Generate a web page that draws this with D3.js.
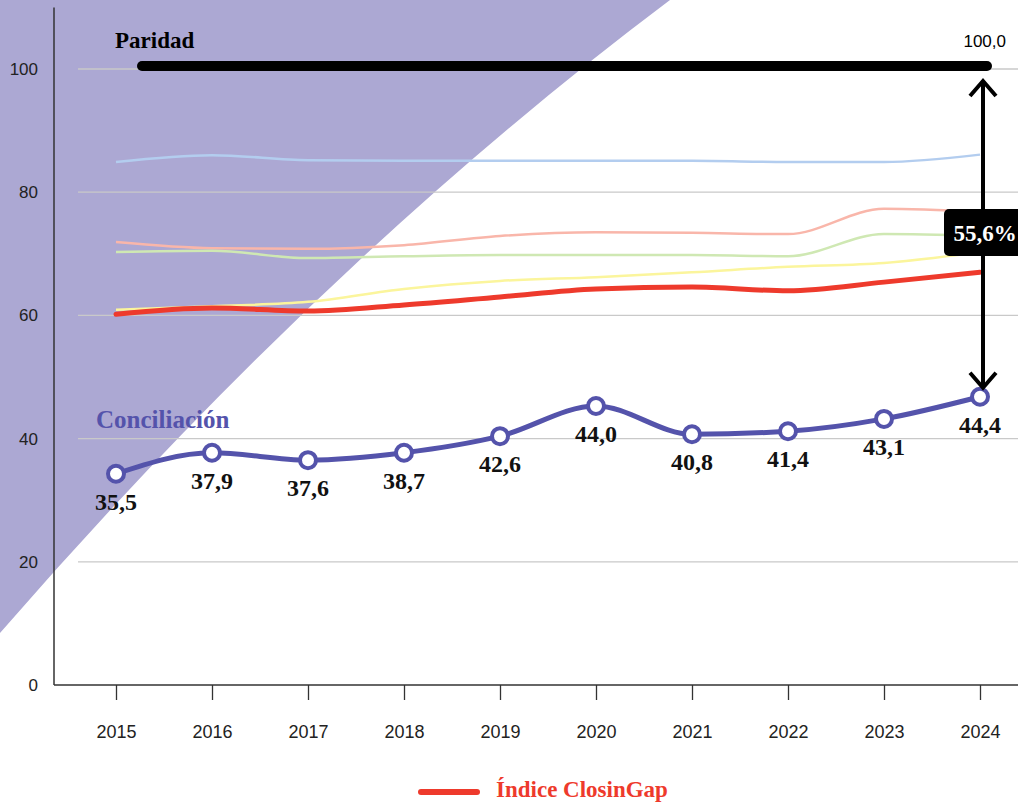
<!DOCTYPE html>
<html>
<head>
<meta charset="utf-8">
<script src="https://cdn.jsdelivr.net/npm/d3@7"></script>
<style>
  body { margin: 0; background: #fff; }
  svg { display: block; }
  .serif { font-family: "Liberation Serif", "DejaVu Serif", serif; font-weight: bold; }
  .sans { font-family: "Liberation Sans", Arial, sans-serif; }
</style>
</head>
<body>
<svg id="chart" width="1018" height="803"></svg>
<script>
// data
const years = [2015, 2016, 2017, 2018, 2019, 2020, 2021, 2022, 2023, 2024];
const conciliacion = [34.3, 37.7, 36.5, 37.7, 40.4, 45.3, 40.7, 41.2, 43.2, 46.8];
const conciliacionLabels = ["35,5", "37,9", "37,6", "38,7", "42,6", "44,0", "40,8", "41,4", "43,1", "44,4"];
const closingap = [60.2, 61.2, 60.7, 61.7, 63.0, 64.3, 64.6, 64.0, 65.4, 67.0];
// other pillars, drawn faint
const blueSerie = [84.9, 86.0, 85.2, 85.1, 85.1, 85.1, 85.1, 84.9, 84.9, 86.1];
const salmonSerie = [71.9, 70.9, 70.8, 71.4, 72.9, 73.5, 73.4, 73.2, 77.3, 76.8];
const greenSerie = [70.3, 70.5, 69.3, 69.6, 69.8, 69.8, 69.8, 69.6, 73.2, 72.9];
const yellowSerie = [60.9, 61.5, 62.2, 64.3, 65.6, 66.2, 67.0, 67.9, 68.5, 70.3];
const yTicks = [0, 20, 40, 60, 80, 100];
const paridad = 100;
const brecha = "55,6%";

const svg = d3.select("#chart");
const width = 1018, height = 803;

const x = d3.scaleLinear().domain([2015, 2024]).range([116, 980]);
const y = d3.scaleLinear().domain([0, 100]).range([685, 69]);

// purple background shape top left
const bg = d3.path();
bg.moveTo(0, 0);
bg.lineTo(670, 0);
bg.quadraticCurveTo(325, 259, 0, 633);
bg.closePath();
svg.append("path").attr("d", bg.toString()).attr("fill", "#aca8d3");

// gridlines
svg.append("g")
  .selectAll("line")
  .data(yTicks.filter(d => d > 0))
  .enter()
  .append("line")
  .attr("x1", 78)
  .attr("x2", width)
  .attr("y1", d => y(d))
  .attr("y2", d => y(d))
  .attr("stroke", "#c9c9c9")
  .attr("stroke-width", 1.3);

// y axis
const yAxis = svg.append("g")
  .attr("transform", "translate(54,0)")
  .call(d3.axisLeft(y).tickValues(yTicks).tickSize(0).tickPadding(16));
yAxis.select(".domain").remove();
yAxis.selectAll("text").attr("class", "sans").attr("font-size", 17).attr("fill", "#222");
svg.append("line")
  .attr("x1", 54).attr("x2", 54)
  .attr("y1", y(0)).attr("y2", y(110))
  .attr("stroke", "#333").attr("stroke-width", 1.5);

// x axis
const xAxis = svg.append("g")
  .attr("transform", `translate(0,${y(0)})`)
  .call(d3.axisBottom(x).tickValues(years).tickFormat(d3.format("d")).tickSize(15).tickPadding(25));
xAxis.select(".domain").remove();
xAxis.selectAll("line").attr("stroke", "#333").attr("stroke-width", 1.3);
xAxis.selectAll("text").attr("class", "sans").attr("font-size", 18).attr("fill", "#222");
svg.append("line")
  .attr("x1", 54).attr("x2", width)
  .attr("y1", y(0)).attr("y2", y(0))
  .attr("stroke", "#333").attr("stroke-width", 1.5);

const line = d3.line()
  .x((d, i) => x(years[i]))
  .y(d => y(d))
  .curve(d3.curveMonotoneX);

// faint lines
const faint = [
  { values: blueSerie, color: "#b3cdef" },
  { values: salmonSerie, color: "#f9b6aa" },
  { values: greenSerie, color: "#cfe8b3" },
  { values: yellowSerie, color: "#fbf59c" }
];
faint.forEach(s => {
  svg.append("path")
    .attr("d", line(s.values))
    .attr("fill", "none")
    .attr("stroke", s.color)
    .attr("stroke-width", 2.5);
});

// ClosinGap index
svg.append("path")
  .attr("d", line(closingap))
  .attr("fill", "none")
  .attr("stroke", "#ee3a2c")
  .attr("stroke-width", 5)
  .attr("stroke-linecap", "round");

// paridad line
svg.append("line")
  .attr("x1", 142).attr("x2", 987)
  .attr("y1", y(paridad) - 3).attr("y2", y(paridad) - 3)
  .attr("stroke", "#000").attr("stroke-width", 10)
  .attr("stroke-linecap", "round");
svg.append("text").attr("class", "serif")
  .attr("x", 115).attr("y", 48)
  .attr("font-size", 23)
  .text("Paridad");
svg.append("text").attr("class", "sans")
  .attr("x", 1006).attr("y", 47)
  .attr("text-anchor", "end")
  .attr("font-size", 17)
  .text("100,0");

// conciliacion line
svg.append("path")
  .attr("d", line(conciliacion))
  .attr("fill", "none")
  .attr("stroke", "#5453ab")
  .attr("stroke-width", 5);

svg.append("g")
  .selectAll("circle")
  .data(conciliacion)
  .enter()
  .append("circle")
  .attr("cx", (d, i) => x(years[i]))
  .attr("cy", d => y(d))
  .attr("r", 8)
  .attr("fill", "#fff")
  .attr("stroke", "#5453ab")
  .attr("stroke-width", 4);

svg.append("g")
  .selectAll("text")
  .data(conciliacion)
  .enter()
  .append("text")
  .attr("class", "serif")
  .attr("x", (d, i) => x(years[i]))
  .attr("y", d => y(d) + 36)
  .attr("text-anchor", "middle")
  .attr("font-size", 24)
  .attr("fill", "#111")
  .text((d, i) => conciliacionLabels[i]);

svg.append("text").attr("class", "serif")
  .attr("x", 96).attr("y", 428)
  .attr("font-size", 25)
  .attr("fill", "#5453ab")
  .text("Conciliación");

// gap arrow
const ax = 983;
const yTop = y(paridad) + 12, yBot = y(conciliacion[conciliacion.length - 1]) - 9;
svg.append("line")
  .attr("x1", ax).attr("x2", ax)
  .attr("y1", yTop).attr("y2", yBot)
  .attr("stroke", "#000").attr("stroke-width", 4);
svg.append("path")
  .attr("d", `M${ax - 13},${yTop + 15} L${ax},${yTop} L${ax + 13},${yTop + 15}`)
  .attr("fill", "none").attr("stroke", "#000").attr("stroke-width", 4)
  .attr("stroke-linejoin", "miter");
svg.append("path")
  .attr("d", `M${ax - 13},${yBot - 15} L${ax},${yBot} L${ax + 13},${yBot - 15}`)
  .attr("fill", "none").attr("stroke", "#000").attr("stroke-width", 4)
  .attr("stroke-linejoin", "miter");

svg.append("rect")
  .attr("x", 944).attr("y", 209)
  .attr("width", 84).attr("height", 47)
  .attr("rx", 5)
  .attr("fill", "#000");
svg.append("text").attr("class", "serif")
  .attr("x", 985).attr("y", 241)
  .attr("text-anchor", "middle")
  .attr("font-size", 23)
  .attr("fill", "#fff")
  .text(brecha);

// legend
svg.append("line")
  .attr("x1", 421).attr("x2", 477)
  .attr("y1", 792).attr("y2", 792)
  .attr("stroke", "#ee3a2c").attr("stroke-width", 6)
  .attr("stroke-linecap", "round");
svg.append("text").attr("class", "serif")
  .attr("x", 496).attr("y", 797)
  .attr("font-size", 23)
  .attr("fill", "#ee3a2c")
  .text("Índice ClosinGap");
</script>
</body>
</html>
